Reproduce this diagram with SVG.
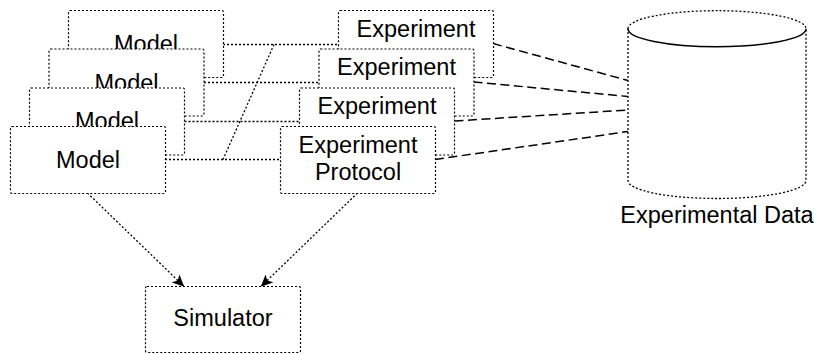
<svg xmlns="http://www.w3.org/2000/svg" width="814" height="354" viewBox="0 0 814 354">
<style>
.box{fill:#fff;stroke:#000;stroke-width:1.2;stroke-dasharray:2 2}
.dot{fill:none;stroke:#000;stroke-width:1.3;stroke-dasharray:2 2}
.dash{fill:none;stroke:#000;stroke-width:1.5;stroke-dasharray:9 4.5}
.solid{fill:none;stroke:#000;stroke-width:1.5}
text{font-family:"Liberation Sans",Arial,sans-serif;font-size:23.5px;fill:#000;text-anchor:middle}
</style>
<defs>
<marker id="arr" markerWidth="12" markerHeight="11" refX="11" refY="5.5" orient="auto" markerUnits="userSpaceOnUse" viewBox="0 0 12 11">
<path d="M0,0 L12,5.5 L0,11 L3,5.5 Z" fill="#000"/>
</marker>
</defs>
<g id="connectors">
<line class="dot" x1="223" y1="44.5" x2="338" y2="44.5"/>
<line class="dot" x1="204" y1="82.5" x2="319" y2="82.5"/>
<line class="dot" x1="184.5" y1="121.5" x2="299.5" y2="121.5"/>
<line class="dot" x1="165" y1="159.5" x2="280" y2="159.5"/>
<line class="dot" x1="274" y1="44.5" x2="223" y2="159.5"/>
<line class="dash" x1="493" y1="43.5" x2="628" y2="80.5"/>
<line class="dash" x1="473.5" y1="82" x2="628" y2="96.5"/>
<line class="dash" x1="454.5" y1="121" x2="628" y2="110"/>
<line class="dash" x1="435" y1="159.5" x2="628" y2="131.5"/>
<line class="dot" x1="87.5" y1="193" x2="183.5" y2="286" marker-end="url(#arr)"/>
<line class="dot" x1="357.5" y1="193" x2="261.5" y2="286" marker-end="url(#arr)"/>
</g>
<g id="model1"><rect class="box" x="68.5" y="10.5" width="155" height="67" rx="1.5"/><text x="146" y="52">Model</text></g>
<g id="experiment1"><rect class="box" x="338.5" y="10.5" width="155" height="67" rx="1.5"/><text x="416" y="36.5">Experiment</text></g>
<g id="model2"><rect class="box" x="49" y="49" width="155" height="67" rx="1.5"/><text x="126.5" y="90.5">Model</text></g>
<g id="experiment2"><rect class="box" x="319" y="49" width="155" height="67" rx="1.5"/><text x="396.5" y="75">Experiment</text></g>
<g id="model3"><rect class="box" x="29.5" y="88" width="155" height="67" rx="1.5"/><text x="107" y="129">Model</text></g>
<g id="experiment3"><rect class="box" x="299.5" y="88" width="155" height="67" rx="1.5"/><text x="377" y="113.5">Experiment</text></g>
<g id="model4"><rect class="box" x="10.5" y="126.5" width="155" height="67" rx="1.5"/><text x="88" y="167.5">Model</text></g>
<g id="experiment4"><rect class="box" x="280.5" y="126.5" width="155" height="67" rx="1.5"/><text x="358" y="152.5">Experiment</text><text x="358" y="180">Protocol</text></g>
<g id="simulator"><rect class="box" x="145.5" y="286.5" width="155" height="66" rx="1.5"/><text x="223" y="326">Simulator</text></g>
<g id="experimental-data">
<path class="dot" d="M628,28.7 A89,18 0 0 1 806,28.7 L806,180.5 A89,18 0 0 1 628,180.5 Z" style="fill:#fff"/>
<path class="solid" d="M628,28.7 A89,18 0 0 0 806,28.7"/>
<text x="717" y="222.5">Experimental Data</text>
</g>
</svg>
